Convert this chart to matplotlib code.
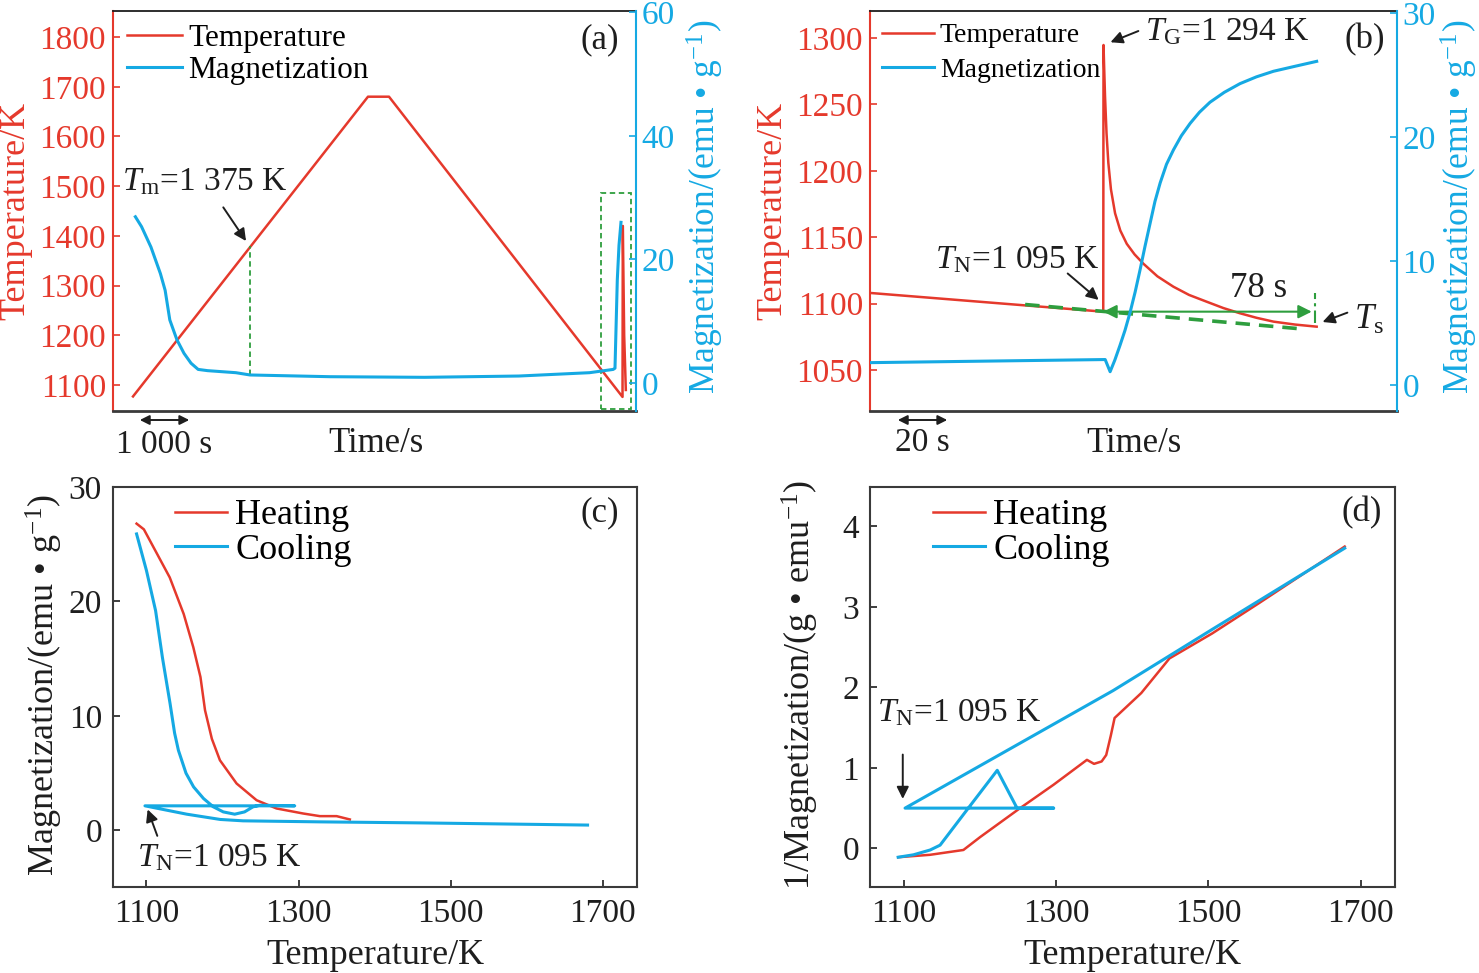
import matplotlib
matplotlib.use('Agg')
import matplotlib.pyplot as plt
from matplotlib.patches import Rectangle

plt.rcParams['font.family'] = ['Liberation Serif', 'DejaVu Serif']
plt.rcParams['mathtext.fontset'] = 'custom'
plt.rcParams['mathtext.rm'] = 'Liberation Serif'
plt.rcParams['mathtext.it'] = 'Liberation Serif:italic'
plt.rcParams['xtick.direction'] = 'in'
plt.rcParams['ytick.direction'] = 'in'

RED = '#E5392C'
BLUE = '#15A9E3'
GREEN = '#2E9E3E'
INK = '#1E1E1E'
SPINE = '#3A3A3A'

# ---- (a) whole heating / cooling cycle, time in s ----
a_temp_t = [0, 4272, 4654, 8900, 8905, 8930, 8960]
a_temp_K = [1077, 1680, 1680, 1076, 1420, 1200, 1090]
a_mag_t = [43, 155, 326, 498, 584, 669, 798, 927, 1055, 1184, 1355, 1870, 2127,
           3585, 5300, 7016, 8301, 8730, 8763, 8805, 8836, 8872]
a_mag_M = [26.9, 25.3, 22.0, 17.7, 15.0, 10.2, 7.0, 4.8, 3.2, 2.2, 2.0, 1.67, 1.3,
           1.02, 0.92, 1.13, 1.67, 2.2, 2.4, 16.7, 22.3, 26.0]
a_tm_t = 2127          # time of T_m marker
a_tm_K = [1120, 1379]

# ---- (b) recalescence detail, time in s ----
b_temp_t = [0, 84.8, 84.9, 85.1, 85.45, 86.0, 86.65, 87.6, 89.1, 91.0, 93.35, 96.2, 99.4,
            104.5, 110.3, 116.0, 122.4, 128.5, 134.5, 140.5, 146.7, 154.5, 162.4]
b_temp_K = [1108, 1093.9, 1294.7, 1280, 1256, 1228, 1206, 1186, 1168, 1155, 1145, 1137, 1130,
            1120.5, 1112.7, 1106.5, 1101.4, 1096.6, 1092.7, 1089.3, 1086.4, 1084.2, 1082.6]
b_mag_t = [0, 85.5, 87.3, 89.0, 90.9, 92.7, 94.5, 96.4, 98.2, 100.0, 101.8, 103.6, 105.5,
           107.8, 110.3, 113.2, 116.4, 119.8, 123.6, 128.8, 134.5, 140.5, 146.7, 154.5, 162.4]
b_mag_M = [1.8, 2.05, 1.07, 2.0, 3.2, 4.4, 5.8, 7.5, 9.3, 11.2, 13.0, 14.8, 16.3,
           17.8, 18.95, 20.1, 21.1, 22.0, 22.8, 23.6, 24.3, 24.85, 25.3, 25.7, 26.1]
b_extrap_t = [56.4, 156.4]
b_extrap_K = [1099.3, 1081.0]
b_span_t = [84.8, 160.6]
b_span_K = 1093.9
b_ts_t = 161.8
b_ts_K = [1085.2, 1107.8]

# ---- (c) magnetization vs temperature ----
c_heat_T = [1087, 1096.6, 1112, 1130.6, 1149, 1161.6, 1171, 1177, 1186, 1196.6, 1218.5,
            1244.8, 1271, 1306, 1328, 1350, 1367.4]
c_heat_M = [26.8, 26.3, 24.4, 22.1, 18.9, 16.0, 13.4, 10.5, 8.0, 6.13, 4.1,
            2.64, 1.92, 1.48, 1.25, 1.25, 0.96]
c_cool_T = [1680, 1530, 1459, 1328, 1227, 1197, 1153, 1098, 1295, 1249, 1240, 1229, 1216,
            1201, 1188, 1175, 1162, 1152, 1142, 1137, 1131, 1121, 1112, 1100, 1087]
c_cool_M = [0.47, 0.6, 0.66, 0.75, 0.84, 0.96, 1.42, 2.15, 2.15, 2.2, 2.06, 1.62, 1.42,
            1.62, 2.06, 2.79, 3.8, 5.0, 7.0, 8.5, 11.1, 15.1, 19.2, 22.7, 25.9]

# ---- (d) inverse magnetization vs temperature ----
d_heat_T = [1093, 1134.8, 1178.6, 1200.5, 1253, 1296.8, 1340.7, 1350, 1360, 1366, 1372,
            1377, 1412, 1449, 1505, 1567, 1679]
d_heat_v = [-0.11, -0.08, -0.02, 0.14, 0.5, 0.79, 1.10, 1.05, 1.08, 1.16, 1.40,
            1.62, 1.93, 2.36, 2.67, 3.05, 3.75]
d_cool_T = [1679, 1505, 1375, 1102, 1297, 1249, 1223, 1185, 1148, 1135, 1113, 1093]
d_cool_v = [3.73, 2.72, 1.96, 0.5, 0.5, 0.5, 0.97, 0.5, 0.04, -0.02, -0.08, -0.11]

temp_ticks = [1100, 1300, 1500, 1700]

W, H = 1479, 973
fig = plt.figure(figsize=(W / 100, H / 100), dpi=100)


def box(l, t, r, b):
    return [l / W, 1 - b / H, (r - l) / W, (b - t) / H]


def put_ylabel(axis, x, y):
    axis.set_label_coords(x, y)
    axis.label.set_verticalalignment('center')


def style_time_axes(ax, ax2):
    ax.set_xticks([])
    ax.spines['left'].set_color(RED)
    ax.spines['right'].set_visible(False)
    ax.spines['top'].set_color(INK)
    ax.spines['bottom'].set_color(SPINE)
    ax.spines['bottom'].set_linewidth(2)
    ax.spines['left'].set_linewidth(1.5)
    ax.spines['top'].set_linewidth(1.3)
    for s in ['left', 'top', 'bottom']:
        ax2.spines[s].set_visible(False)
    ax2.spines['right'].set_color(BLUE)
    ax2.spines['right'].set_linewidth(1.5)
    ax.tick_params(axis='y', colors=RED, labelsize=24, length=5, width=1.2, pad=5)
    ax2.tick_params(axis='y', colors=BLUE, labelsize=24, length=5, width=1.2, pad=4)
    ax.set_ylabel('Temperature/K', color=RED, fontsize=26)
    ax2.set_ylabel(r'Magnetization/(emu • g$^{-1}$)', color=BLUE, fontsize=25.5)


def style_temp_axes(ax):
    for s in ax.spines.values():
        s.set_color(SPINE)
        s.set_linewidth(1.5)
    ax.tick_params(colors=INK, labelsize=24, length=5, width=1.2, pad=8)
    ax.set_xticks(temp_ticks)
    ax.set_xlim(1056, 1745)
    ax.set_xlabel('Temperature/K', fontsize=26, color=INK)
    ax.xaxis.set_label_coords(0.5, -0.17)
    ax.xaxis.label.set_verticalalignment('center')


# ================= (a) =================
ax_a = fig.add_axes(box(113, 11, 636, 411))
ax_a2 = ax_a.twinx()
ax_a.plot(a_temp_t, a_temp_K, color=RED, lw=1.8, label='Temperature')
ax_a2.plot(a_mag_t, a_mag_M, color=BLUE, lw=2.2, label='Magnetization')
ax_a.set_xlim(-364, 9145)
ax_a.set_ylim(1047.7, 1852.4)
ax_a.set_yticks(range(1100, 1801, 100))
ax_a2.set_ylim(-4.53, 60.2)
ax_a2.set_yticks([0, 20, 40, 60])
style_time_axes(ax_a, ax_a2)
put_ylabel(ax_a.yaxis, -0.185, 0.5)
put_ylabel(ax_a2.yaxis, 1.132, 0.51)

ax_a.plot([a_tm_t, a_tm_t], a_tm_K, color=GREEN, lw=1.3, dashes=(3, 2))
ax_a.add_patch(Rectangle((8508, 1052), 546, 434, fill=False, ec=GREEN, lw=1.3,
                         ls=(0, (3, 2))))
ax_a.annotate('', xy=(2083, 1385), xytext=(1613, 1462),
              arrowprops=dict(arrowstyle='-|>', color=INK, lw=1.4, mutation_scale=18))
ax_a.text(-200, 1508, r'$T_{\rm m}$=1 375 K', fontsize=24, color=INK, ha='left', va='center')
ax_a.text(0.931, 0.927, '(a)', transform=ax_a.transAxes, fontsize=25, color=INK,
          ha='center', va='center')
ax_a.annotate('', xy=(73, -0.0225), xytext=(1073, -0.0225),
              xycoords=('data', 'axes fraction'), textcoords=('data', 'axes fraction'),
              arrowprops=dict(arrowstyle='<|-|>', color=INK, lw=1.4, mutation_scale=14),
              annotation_clip=False)
ax_a.text(573, -0.085, '1 000 s', transform=ax_a.get_xaxis_transform(), fontsize=24,
          color=INK, ha='center', va='center')
ax_a.text(0.503, -0.08, 'Time/s', transform=ax_a.transAxes, fontsize=25, color=INK,
          ha='center', va='center')
h1, l1 = ax_a.get_legend_handles_labels()
h2, l2 = ax_a2.get_legend_handles_labels()
ax_a2.legend(h1 + h2, l1 + l2, loc='upper left', bbox_to_anchor=(0.027, 0.967),
             frameon=False, fontsize=22.5, handlelength=1.75, handletextpad=0.2,
             labelspacing=0.08, borderpad=0, borderaxespad=0)

# ================= (b) =================
ax_b = fig.add_axes(box(870, 11, 1397, 411))
ax_b2 = ax_b.twinx()
ax_b.plot(b_temp_t, b_temp_K, color=RED, lw=1.8, label='Temperature')
ax_b2.plot(b_mag_t, b_mag_M, color=BLUE, lw=2.2, label='Magnetization')
ax_b.set_xlim(0, 191.6)
ax_b.set_ylim(1019.1, 1320.3)
ax_b.set_yticks(range(1050, 1301, 50))
ax_b2.set_ylim(-2.1, 30.16)
ax_b2.set_yticks([0, 10, 20, 30])
style_time_axes(ax_b, ax_b2)
put_ylabel(ax_b.yaxis, -0.184, 0.5)
put_ylabel(ax_b2.yaxis, 1.118, 0.51)

ax_b.plot(b_extrap_t, b_extrap_K, color=GREEN, lw=2.6, dashes=(4, 2.5))
ax_b.annotate('', xy=(b_span_t[0], b_span_K), xytext=(b_span_t[1], b_span_K),
              arrowprops=dict(arrowstyle='<|-|>', color=GREEN, lw=1.5, mutation_scale=20,
                              shrinkA=0, shrinkB=0))
ax_b.plot([b_ts_t, b_ts_t], b_ts_K, color=GREEN, lw=1.5, dashes=(6, 2, 1.5, 2))
ax_b.text(141.2, 1111.5, '78 s', fontsize=25, color=INK, ha='center', va='center')
ax_b.annotate('', xy=(86.5, 1296), xytext=(98.5, 1306),
              arrowprops=dict(arrowstyle='-|>', color=INK, lw=1.4, mutation_scale=18))
ax_b.text(100, 1304.5, r'$T_{\rm G}$=1 294 K', fontsize=24, color=INK, ha='left', va='center')
ax_b.annotate('', xy=(83.9, 1101.4), xytext=(71.1, 1124),
              arrowprops=dict(arrowstyle='-|>', color=INK, lw=1.4, mutation_scale=18))
ax_b.text(23.6, 1132.8, r'$T_{\rm N}$=1 095 K', fontsize=24, color=INK, ha='left', va='center')
ax_b.annotate('', xy=(163.6, 1085.4), xytext=(174.5, 1093.9),
              arrowprops=dict(arrowstyle='-|>', color=INK, lw=1.4, mutation_scale=18))
ax_b.text(176, 1087.5, r'$T_{\rm s}$', fontsize=25, color=INK, ha='left', va='center')
ax_b.text(0.939, 0.927, '(b)', transform=ax_b.transAxes, fontsize=25, color=INK,
          ha='center', va='center')
ax_b.annotate('', xy=(9.1, -0.0225), xytext=(29.1, -0.0225),
              xycoords=('data', 'axes fraction'), textcoords=('data', 'axes fraction'),
              arrowprops=dict(arrowstyle='<|-|>', color=INK, lw=1.4, mutation_scale=14),
              annotation_clip=False)
ax_b.text(18.9, -0.08, '20 s', transform=ax_b.get_xaxis_transform(), fontsize=24,
          color=INK, ha='center', va='center')
ax_b.text(0.5, -0.08, 'Time/s', transform=ax_b.transAxes, fontsize=25, color=INK,
          ha='center', va='center')
h1, l1 = ax_b.get_legend_handles_labels()
h2, l2 = ax_b2.get_legend_handles_labels()
ax_b2.legend(h1 + h2, l1 + l2, loc='upper left', bbox_to_anchor=(0.022, 0.97),
             frameon=False, fontsize=20, handlelength=1.9, handletextpad=0.2,
             labelspacing=0.33, borderpad=0, borderaxespad=0)

# ================= (c) =================
ax_c = fig.add_axes(box(113, 487, 637, 887))
ax_c.plot(c_heat_T, c_heat_M, color=RED, lw=1.8, label='Heating')
ax_c.plot(c_cool_T, c_cool_M, color=BLUE, lw=2.2, label='Cooling')
ax_c.set_ylim(-4.94, 30)
ax_c.set_yticks([0, 10, 20, 30])
style_temp_axes(ax_c)
ax_c.set_ylabel(r'Magnetization/(emu • g$^{-1}$)', fontsize=26, color=INK)
put_ylabel(ax_c.yaxis, -0.13, 0.505)
ax_c.annotate('', xy=(1100.3, 2.06), xytext=(1115.5, -0.7),
              arrowprops=dict(arrowstyle='-|>', color=INK, lw=1.4, mutation_scale=18))
ax_c.text(1087.5, -2.41, r'$T_{\rm N}$=1 095 K', fontsize=24, color=INK, ha='left', va='center')
ax_c.text(0.929, 0.935, '(c)', transform=ax_c.transAxes, fontsize=25, color=INK,
          ha='center', va='center')
ax_c.legend(loc='upper left', bbox_to_anchor=(0.118, 0.97), frameon=False, fontsize=26,
            handlelength=1.45, handletextpad=0.22, labelspacing=0.03, borderpad=0,
            borderaxespad=0)

# ================= (d) =================
ax_d = fig.add_axes(box(870, 487, 1395, 887))
ax_d.plot(d_heat_T, d_heat_v, color=RED, lw=1.8, label='Heating')
ax_d.plot(d_cool_T, d_cool_v, color=BLUE, lw=2.2, label='Cooling')
ax_d.set_ylim(-0.48, 4.49)
ax_d.set_yticks([0, 1, 2, 3, 4])
style_temp_axes(ax_d)
ax_d.set_ylabel(r'1/Magnetization/(g • emu$^{-1}$)', fontsize=26, color=INK)
put_ylabel(ax_d.yaxis, -0.133, 0.505)
ax_d.annotate('', xy=(1099, 0.58), xytext=(1099, 1.2),
              arrowprops=dict(arrowstyle='-|>', color=INK, lw=1.4, mutation_scale=18))
ax_d.text(1065.2, 1.68, r'$T_{\rm N}$=1 095 K', fontsize=24, color=INK, ha='left', va='center')
ax_d.text(0.937, 0.935, '(d)', transform=ax_d.transAxes, fontsize=25, color=INK,
          ha='center', va='center')
ax_d.legend(loc='upper left', bbox_to_anchor=(0.12, 0.97), frameon=False, fontsize=26,
            handlelength=1.45, handletextpad=0.22, labelspacing=0.03, borderpad=0,
            borderaxespad=0)

fig.savefig('out.png', dpi=100)
